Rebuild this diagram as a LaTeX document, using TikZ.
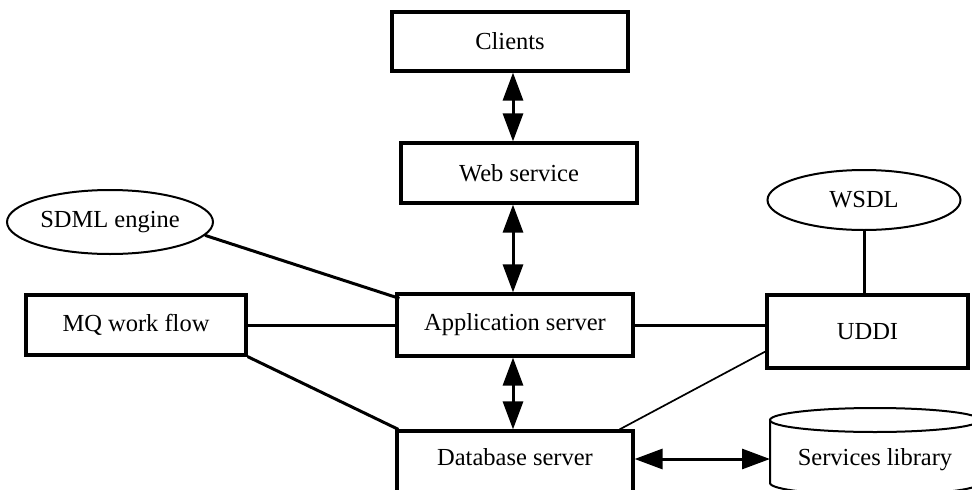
\documentclass[tikz,border=0pt]{standalone}
\usepackage{fontspec}
\setmainfont{Liberation Serif}
\usetikzlibrary{arrows.meta,shapes.geometric}
\begin{document}
\begin{tikzpicture}[x=1pt,y=-1pt,
  box/.style={draw,line width=3.2pt,rectangle,inner sep=0pt,font=\fontsize{24.5}{28}\selectfont},
  oval/.style={draw,line width=2pt,ellipse,inner sep=0pt,font=\fontsize{24.5}{28}\selectfont},
  txt/.style={inner sep=0pt,font=\fontsize{24.5}{28}\selectfont},
  link/.style={line width=3pt},
  thinlink/.style={line width=1.7pt},
  both/.style={line width=3pt,{Triangle[length=28pt,width=20pt]}-{Triangle[length=28pt,width=20pt]}},
  cyl/.style={line width=2pt,fill=white}]
\useasboundingbox (0,0) rectangle (972,490);
\clip (0,0) rectangle (972,490);
\node[box,minimum width=236pt,minimum height=59pt] (clients) at (510,41.5) {Clients};
\node[box,minimum width=236pt,minimum height=60pt] (web) at (519,173) {Web service};
\node[box,minimum width=236pt,minimum height=62pt] (app) at (515,325) {Application server};
\node[box,minimum width=236pt,minimum height=90pt] (db) at (515,476) {};
\node[txt] (dbt) at (515,457) {Database server};
\node[box,minimum width=220pt,minimum height=60pt] (mq) at (136,325) {MQ work flow};
\node[box,minimum width=201pt,minimum height=73pt] (uddi) at (867.5,331.5) {UDDI};
\node[oval,minimum width=206pt,minimum height=64pt] (sdml) at (110,222) {SDML engine};
\node[oval,minimum width=193pt,minimum height=60pt] (wsdl) at (864,200) {WSDL};
% cylinder
\draw[cyl] (770,420) -- (770,483) arc[start angle=180,end angle=360,x radius=105pt,y radius=12pt] -- (980,420);
\draw[cyl] (875,420) ellipse [x radius=105pt,y radius=12pt];
\node[txt] (lib) at (875,460) {Services library};
\coordinate (libw) at (770,459);
% connectors
\draw[both] ([xshift=3pt]clients.south) -- ([xshift=3pt]clients.south |- web.north);
\draw[both] ([xshift=-2pt]app.north |- web.south) -- ([xshift=-2pt]app.north);
\draw[both] ([xshift=-2pt]app.south) -- ([xshift=-2pt]app.south |- db.north);
\draw[both] (libw -| db.east) -- (libw);
\draw[link] (sdml.-8) -- ([xshift=4pt,yshift=-6pt]app.north west);
\draw[link] (mq.east) -- (app.west);
\draw[link] (mq.south east) -- ([xshift=3pt]db.north west);
\draw[link] (app.east) -- (app.east -| uddi.west);
\draw[thinlink] ([xshift=-15pt]db.north east) -- ([yshift=-20pt]uddi.west);
\draw[link] (wsdl.south) -- (wsdl.south |- uddi.north);
\end{tikzpicture}
\end{document}
